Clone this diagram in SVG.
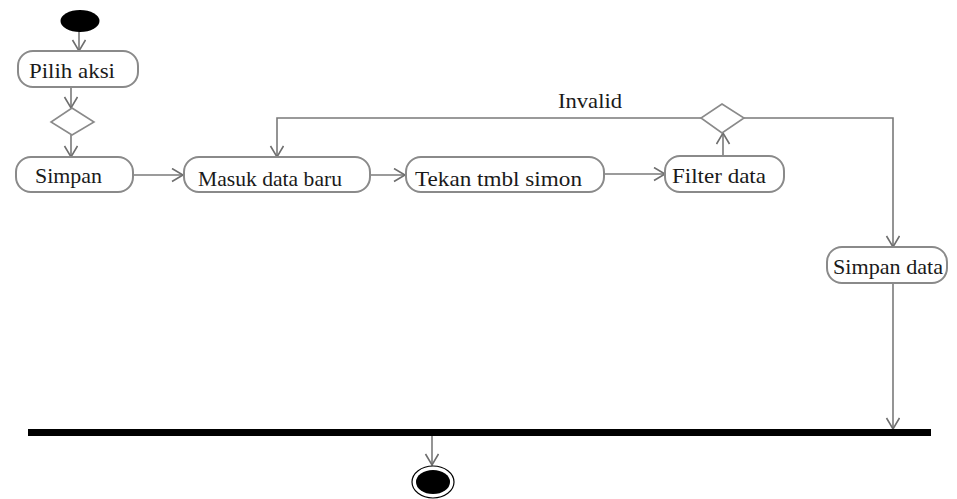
<svg xmlns="http://www.w3.org/2000/svg" width="957" height="499" viewBox="0 0 957 499">
<style>
.box{fill:#fff;stroke:#8a8a8a;stroke-width:2}
.lbl{font-family:"Liberation Serif","Times New Roman",serif;font-size:21px;fill:#1a1a1a}
.con{fill:none;stroke:#7a7a7a;stroke-width:1.6}
.dia{fill:#fff;stroke:#8a8a8a;stroke-width:1.6}
</style>
<defs>
<marker id="arr" markerUnits="userSpaceOnUse" markerWidth="16" markerHeight="16" refX="12" refY="7" orient="auto">
<path d="M1,0.5 L12,7 L1,13.5" fill="none" stroke="#6e6e6e" stroke-width="1.6"/>
</marker>
</defs>
<rect width="957" height="499" fill="#fff"/>
<g id="connectors">
<line class="con" x1="79" y1="31" x2="79" y2="51" marker-end="url(#arr)"/>
<line class="con" x1="71" y1="87" x2="71" y2="108" marker-end="url(#arr)"/>
<line class="con" x1="71" y1="135" x2="71" y2="157" marker-end="url(#arr)"/>
<line class="con" x1="133" y1="175" x2="183" y2="175" marker-end="url(#arr)"/>
<line class="con" x1="370" y1="175" x2="405" y2="175" marker-end="url(#arr)"/>
<line class="con" x1="604" y1="174" x2="665" y2="174" marker-end="url(#arr)"/>
<line class="con" x1="723" y1="156" x2="723" y2="133" marker-end="url(#arr)"/>
<polyline class="con" points="701,118 277,118 277,157" marker-end="url(#arr)"/>
<polyline class="con" points="744,118 893,118 893,247" marker-end="url(#arr)"/>
<line class="con" x1="893" y1="283" x2="893" y2="429" marker-end="url(#arr)"/>
<line class="con" x1="432" y1="436" x2="432" y2="465" marker-end="url(#arr)"/>
<text class="lbl" x="558" y="108" textLength="64" lengthAdjust="spacingAndGlyphs">Invalid</text>
</g>
<g id="start"><ellipse cx="80" cy="21" rx="19.5" ry="11" fill="#000"/></g>
<g id="pilih-aksi"><rect class="box" x="18" y="51" width="120" height="36" rx="15"/><text class="lbl" x="29" y="78" textLength="86" lengthAdjust="spacingAndGlyphs">Pilih aksi</text></g>
<g id="decision1"><polygon class="dia" points="72,108 94,122 72,135 51,122"/></g>
<g id="simpan"><rect class="box" x="16" y="157" width="117" height="35" rx="15"/><text class="lbl" x="35" y="183" textLength="67" lengthAdjust="spacingAndGlyphs">Simpan</text></g>
<g id="masuk-data-baru"><rect class="box" x="184" y="157" width="186" height="35" rx="15"/><text class="lbl" x="198" y="186" textLength="144" lengthAdjust="spacingAndGlyphs">Masuk data baru</text></g>
<g id="tekan-tmbl-simon"><rect class="box" x="406" y="157" width="198" height="35" rx="15"/><text class="lbl" x="415" y="186" textLength="167" lengthAdjust="spacingAndGlyphs">Tekan tmbl simon</text></g>
<g id="filter-data"><rect class="box" x="665" y="156" width="119" height="36" rx="15"/><text class="lbl" x="672" y="183" textLength="94" lengthAdjust="spacingAndGlyphs">Filter data</text></g>
<g id="decision2"><polygon class="dia" points="722,104 744,118 722,133 701,118"/></g>
<g id="simpan-data"><rect class="box" x="827" y="247" width="120" height="36" rx="15"/><text class="lbl" x="833" y="274" textLength="110" lengthAdjust="spacingAndGlyphs">Simpan data</text></g>
<g id="sync-bar"><rect x="28" y="429" width="903" height="7" fill="#000"/></g>
<g id="end"><ellipse cx="433" cy="482" rx="21" ry="16" fill="#fff" stroke="#000" stroke-width="1.2"/><ellipse cx="433" cy="482" rx="17" ry="12" fill="#000"/></g>
</svg>
